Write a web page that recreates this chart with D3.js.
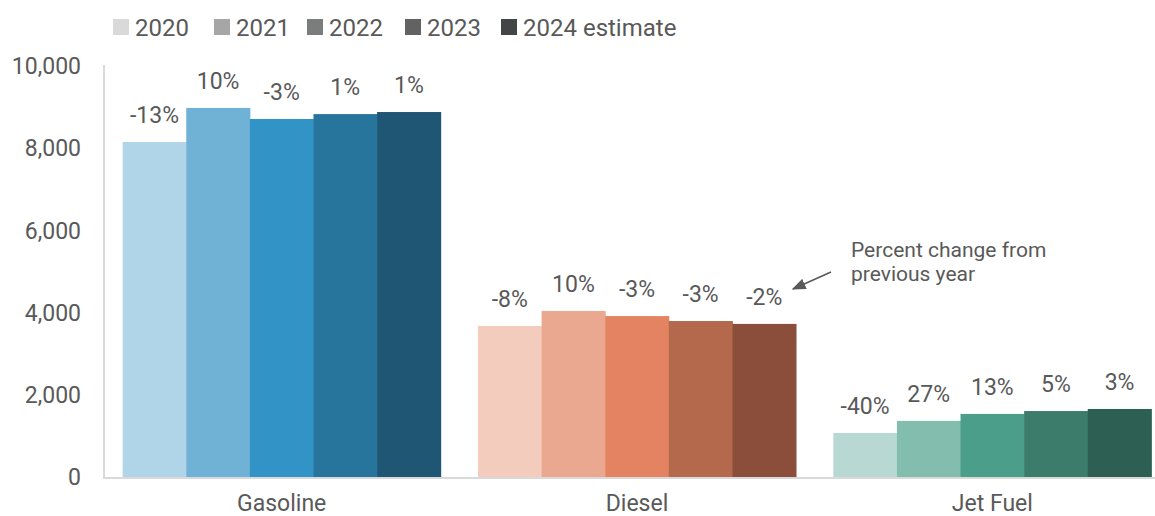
<!DOCTYPE html>
<html>
<head>
<meta charset="utf-8">
<script src="https://cdn.jsdelivr.net/npm/d3@7"></script>
<style>
  body { margin: 0; background: #fff; }
  text { font-family: Roboto, "Noto Sans", sans-serif; fill: #595959; }
</style>
</head>
<body>
<div class="graph"></div>
<script>
// data
var fuels = ["Gasoline", "Diesel", "Jet Fuel"];
var years = ["2020", "2021", "2022", "2023", "2024 estimate"];
var gasoline = [8150, 8980, 8710, 8830, 8880];
var diesel = [3675, 4040, 3915, 3795, 3725];
var jetFuel = [1070, 1365, 1535, 1605, 1655];
var gasolineChange = ["-13%", "10%", "-3%", "1%", "1%"];
var dieselChange = ["-8%", "10%", "-3%", "-3%", "-2%"];
var jetFuelChange = ["-40%", "27%", "13%", "5%", "3%"];
var yTicks = [0, 2000, 4000, 6000, 8000, 10000];

var legendColors = ["#d9d9d9", "#a6a6a6", "#7a7d7c", "#626262", "#444546"];
var fuelColors = [
  ["#b0d4e8", "#70b1d6", "#3293c6", "#27759d", "#1f5673"],
  ["#f3ccbe", "#eba891", "#e38361", "#b4684c", "#8a4e3b"],
  ["#b8d9d3", "#82bdad", "#4a9e8a", "#3c7c6b", "#2d5f52"]
];

var series = [gasoline, diesel, jetFuel];
var changes = [gasolineChange, dieselChange, jetFuelChange];

var width = 1155, height = 516;
var svg = d3.select(".graph").append("svg")
  .attr("width", width).attr("height", height);

// scales
var x0 = d3.scaleBand().domain(fuels).range([104, 1170]).paddingInner(0.105).paddingOuter(0.0525);
var x1 = d3.scaleBand().domain(years).range([0, x0.bandwidth()]);
var y = d3.scaleLinear().domain([0, 10000]).range([477, 66]);

// y labels
svg.append("g").selectAll("text").data(yTicks).enter().append("text")
  .attr("x", 81).attr("y", d => y(d)).attr("dy", "0.36em")
  .attr("text-anchor", "end").style("font-size", "23px")
  .text(d => d3.format(",")(d));

// bars
fuels.forEach(function (f, i) {
  var g = svg.append("g").attr("transform", "translate(" + x0(f) + ",0)");
  g.selectAll("rect").data(series[i]).enter().append("rect")
    .attr("x", (d, j) => x1(years[j]))
    .attr("y", d => y(d))
    .attr("width", x1.bandwidth() + 0.5)
    .attr("height", d => y(0) - y(d))
    .attr("fill", (d, j) => fuelColors[i][j]);
  g.selectAll("text").data(series[i]).enter().append("text")
    .attr("x", (d, j) => x1(years[j]) + x1.bandwidth() / 2)
    .attr("y", d => y(d) - 19)
    .attr("text-anchor", "middle").style("font-size", "23px")
    .text((d, j) => changes[i][j]);
});

// axes lines
svg.append("line").attr("x1", 104).attr("x2", 104).attr("y1", 65).attr("y2", 478)
  .attr("stroke", "#d9d9d9").attr("stroke-width", 2);
svg.append("line").attr("x1", 103).attr("x2", 1155).attr("y1", 478).attr("y2", 478)
  .attr("stroke", "#d9d9d9").attr("stroke-width", 2);

// category labels
svg.append("g").selectAll("text").data(fuels).enter().append("text")
  .attr("x", d => x0(d) + x0.bandwidth() / 2).attr("y", 503).attr("dy", "0.36em")
  .attr("text-anchor", "middle").style("font-size", "23px")
  .text(d => d);

// legend
var legendX = [113, 214, 307, 405, 501];
var lg = svg.append("g").selectAll("g").data(years).enter().append("g")
  .attr("transform", (d, i) => "translate(" + legendX[i] + ",19)");
lg.append("rect").attr("width", 16).attr("height", 16).attr("fill", (d, i) => legendColors[i]);
lg.append("text").attr("x", 22).attr("y", 8).attr("dy", "0.36em")
  .style("font-size", "24px").text(d => d);

// annotation
svg.append("defs").append("marker")
  .attr("id", "arrow").attr("viewBox", "0 0 10 10").attr("refX", 9).attr("refY", 5)
  .attr("markerWidth", 14).attr("markerHeight", 11).attr("markerUnits", "userSpaceOnUse")
  .attr("orient", "auto").attr("preserveAspectRatio", "none")
  .append("path").attr("d", "M0,0L10,5L0,10z").attr("fill", "#595959");
svg.append("line").attr("x1", 831).attr("y1", 272).attr("x2", 793).attr("y2", 289)
  .attr("stroke", "#595959").attr("stroke-width", 1.5).attr("marker-end", "url(#arrow)");
var note = svg.append("text").attr("x", 851).attr("y", 257).style("font-size", "21px");
note.append("tspan").attr("x", 851).text("Percent change from");
note.append("tspan").attr("x", 851).attr("dy", 24).text("previous year");
</script>
</body>
</html>
